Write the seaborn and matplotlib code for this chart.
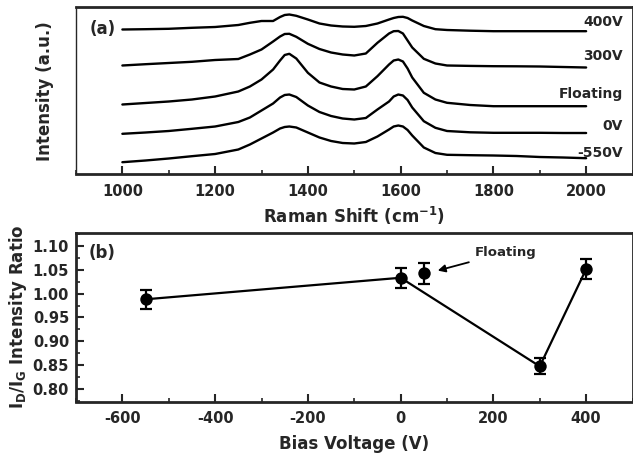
import numpy as np
import pandas as pd
import matplotlib
matplotlib.use("Agg")
import matplotlib.pyplot as plt
import seaborn as sns
from matplotlib.ticker import MultipleLocator

# ---------------- data ----------------
# Panel (a): Raman spectra (height above axis bottom, arbitrary units)
wavenumber = [1000, 1050, 1100, 1150, 1200, 1250, 1275, 1300, 1325, 1340, 1350,
              1360, 1375, 1400, 1425, 1450, 1475, 1500, 1525, 1550, 1575, 1585,
              1595, 1605, 1615, 1625, 1650, 1675, 1700, 1750, 1800, 1850, 1900,
              1950, 2000]
spec_m550 = [12.3, 14, 16, 18.3, 20.5, 25, 30, 36, 42, 46, 47.5,
             48, 47, 42, 37, 33.5, 31.5, 31, 32.5, 38, 45, 48,
             49, 48, 44.5, 39, 27, 21.5, 19.7, 19.3, 19, 18.5, 17.5,
             17, 16.3]
spec_0 = [40.7, 42, 43.5, 45.7, 48, 52.5, 57, 64, 71, 77, 79.5,
          80, 77.5, 69, 62.5, 58.5, 56, 55, 56.5, 65, 73, 78,
          80, 79, 74.5, 67, 53.3, 46.7, 43.5, 42.2, 41.7, 41.7, 41.7,
          41.5, 41.5]
spec_float = [70, 71.5, 73, 75, 78, 83, 88, 95, 105, 114, 119.5,
              120.7, 116, 101.7, 92, 88, 85.5, 85, 88, 98.3, 110, 114,
              115, 113, 106, 97, 81.7, 75, 71.7, 69.5, 68.3, 68.3, 68.3,
              68.3, 68.3]
spec_300 = [109, 110.3, 111.5, 112.7, 114.5, 115.5, 120, 125, 133, 138, 140.5,
            140.7, 137.7, 130.7, 125.5, 122, 120, 119, 121, 131.7, 141, 143.3,
            143.5, 141, 134, 127, 115.7, 111, 109, 108.6, 108.3, 108.2, 108,
            107.5, 107]
spec_400 = [145, 145.3, 145.7, 146.7, 147.5, 149.5, 151.7, 153.5, 153.5, 157.5, 159.5,
            160, 158.7, 155, 151, 149, 148, 147.7, 148.5, 151, 155, 156.5,
            157.5, 157.7, 156.5, 154, 148.5, 145.3, 144.5, 143.8, 143.3, 143.3, 143.3,
            143.3, 143.3]
spec_names = ["-550V", "0V", "Floating", "300V", "400V"]
spec_label_y = [21.7, 48.3, 80, 118.3, 152.3]

# Panel (b): ID/IG ratio vs bias voltage
bias = [-550, 0, 300, 400]
ratio = [0.988, 1.033, 0.848, 1.051]
ratio_err = [0.02, 0.021, 0.017, 0.021]
float_bias = [50]
float_ratio = [1.042]
float_err = [0.021]

# ---------------- style ----------------
sns.set_style("ticks")
FONT = "DejaVu Sans"
plt.rcParams["font.family"] = [FONT]
plt.rcParams["font.weight"] = "bold"
plt.rcParams["axes.unicode_minus"] = False
plt.rcParams["mathtext.fontset"] = "custom"
plt.rcParams["mathtext.rm"] = f"{FONT}:bold"
plt.rcParams["mathtext.bf"] = f"{FONT}:bold"
plt.rcParams["mathtext.it"] = f"{FONT}:bold"
plt.rcParams["mathtext.default"] = "bf"

W, H = 633, 461
fig = plt.figure(figsize=(W / 100, H / 100), dpi=100)

def ax_rect(l, t, r, b):
    return [l / W, 1 - b / H, (r - l) / W, (b - t) / H]

axa = fig.add_axes(ax_rect(76, 7.5, 632.5, 174.5))
axb = fig.add_axes(ax_rect(76, 233, 632.5, 401.5))

# ---------------- panel (a) ----------------
spec_df = pd.DataFrame({
    "w": wavenumber * 5,
    "I": spec_m550 + spec_0 + spec_float + spec_300 + spec_400,
    "s": [n for n in spec_names for _ in wavenumber],
})
sns.lineplot(data=spec_df, x="w", y="I", units="s", estimator=None,
             color="black", lw=1.7, ax=axa, legend=False)
for name, ly in zip(spec_names, spec_label_y):
    axa.text(2079, ly, name, ha="right", va="center", fontsize=10,
             fontweight="bold")
axa.text(0.025, 0.871, "(a)", transform=axa.transAxes, ha="left",
         va="center", fontsize=12, fontweight="bold")
axa.set_xlim(900, 2100)
axa.set_ylim(0, 167)
axa.xaxis.set_major_locator(MultipleLocator(200))
axa.xaxis.set_minor_locator(MultipleLocator(100))
axa.set_yticks([])
axa.tick_params(axis="x", which="major", direction="in", length=6, width=1.5,
                labelsize=10.5, pad=7)
axa.tick_params(axis="x", which="minor", direction="in", length=3, width=1.2)
axa.set_xlabel("Raman Shift (cm$^{-1}$)", fontsize=12, fontweight="bold",
               labelpad=4)
axa.set_ylabel("Intensity (a.u.)", fontsize=12, fontweight="bold", labelpad=16)
for side in ["top", "bottom", "right"]:
    axa.spines[side].set_linewidth(2)
axa.spines["left"].set_linewidth(1)

# ---------------- panel (b) ----------------
b_df = pd.DataFrame({"bias": bias, "ratio": ratio})
sns.lineplot(data=b_df, x="bias", y="ratio", color="black", lw=1.6, ax=axb,
             sort=False)
axb.errorbar(bias, ratio, yerr=ratio_err, fmt="none", ecolor="black",
             elinewidth=1.6, capsize=4.5, capthick=1.6)
axb.errorbar(float_bias, float_ratio, yerr=float_err, fmt="none",
             ecolor="black", elinewidth=1.6, capsize=4.5, capthick=1.6)
sns.scatterplot(x=bias + float_bias, y=ratio + float_ratio, color="black",
                s=80, edgecolor="black", linewidth=0, ax=axb, zorder=5)
axb.annotate("Floating", xy=(80, 1.048), xytext=(160, 1.086),
             fontsize=9.5, fontweight="bold", ha="left", va="center",
             arrowprops=dict(arrowstyle="-|>", color="black", lw=1.3,
                             mutation_scale=11, shrinkA=2, shrinkB=0))
axb.text(0.022, 0.881, "(b)", transform=axb.transAxes, ha="left",
         va="center", fontsize=12, fontweight="bold")
axb.set_xlim(-700, 500)
axb.set_ylim(0.7745, 1.1265)
axb.xaxis.set_major_locator(MultipleLocator(200))
axb.xaxis.set_minor_locator(MultipleLocator(100))
axb.yaxis.set_minor_locator(MultipleLocator(0.025))
axb.set_yticks([0.80, 0.85, 0.90, 0.95, 1.00, 1.05, 1.10])
axb.set_yticklabels(["0.80", "0.85", "0.90", "0.95", "1.00", "1.05", "1.10"])
axb.tick_params(axis="both", which="major", direction="in", length=6,
                width=1.5, labelsize=10.5)
axb.tick_params(axis="x", which="major", pad=7)
axb.tick_params(axis="y", which="major", pad=5)
axb.tick_params(axis="both", which="minor", direction="in", length=3,
                width=1.2)
axb.set_xlabel("Bias Voltage (V)", fontsize=12, fontweight="bold", labelpad=6)
axb.set_ylabel("I$_D$/I$_G$ Intensity Ratio", fontsize=12, fontweight="bold",
               labelpad=3)
for side in ["top", "bottom", "left", "right"]:
    axb.spines[side].set_linewidth(2)

fig.savefig("out.png", dpi=100)
